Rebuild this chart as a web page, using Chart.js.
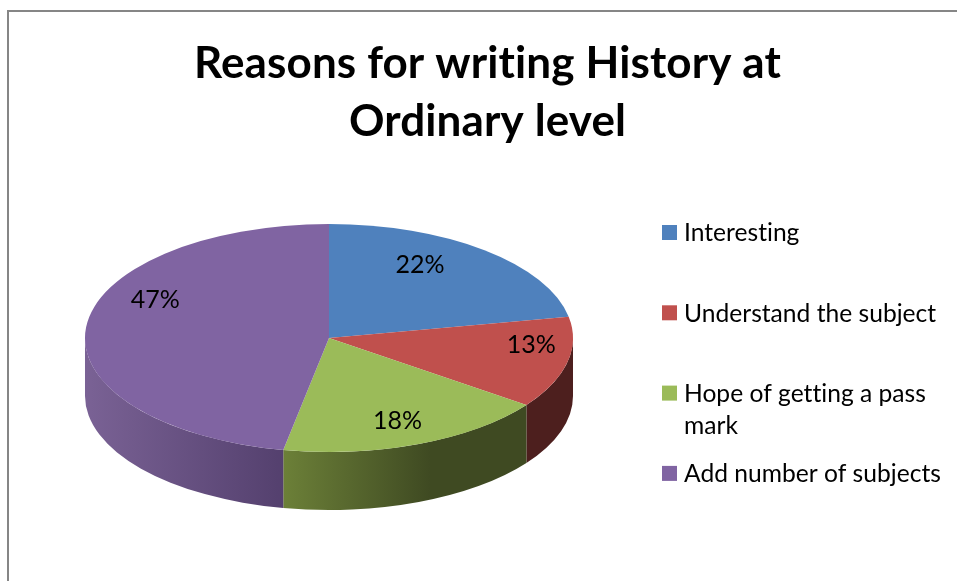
<!DOCTYPE html>
<html>
<head>
<meta charset="utf-8">
<title>Reasons for writing History at Ordinary level</title>
<script src="https://cdn.jsdelivr.net/npm/chart.js@4"></script>
<style>
  html, body { margin: 0; padding: 0; background: #fff; }
  #wrap { width: 957px; height: 581px; }
</style>
</head>
<body>
<div id="wrap"><canvas id="chart" width="957" height="581"></canvas></div>
<script>
'use strict';

// ── DATA ──────────────────────────────────────────────────────────
const TITLE_LINES = ['Reasons for writing History at', 'Ordinary level'];
const CATEGORIES  = ['Interesting', 'Understand the subject', ['Hope of getting a pass', 'mark'], 'Add number of subjects'];
const VALUES      = [22, 13, 18, 47];

// ── STYLE ─────────────────────────────────────────────────────────
const FONT        = 'Lato, Carlito, sans-serif';
const TOP_COLOURS = ['#4f81bd', '#c0504d', '#9bbb59', '#8064a2'];
const SIDE_STOPS  = [
  ['#2c4a70', '#2c4a70'],
  ['#4d1f1e', '#4d1f1e'],
  ['#6c8038', '#3f4a22'],
  ['#7a6295', '#54406e']
];
const PIE          = { cx: 329, cy: 338, rx: 244, ry: 114, depth: 58 };
const LABEL_NUDGE  = [[-24, -8], [26, -11], [2, 5], [6, -30]];
const LEGEND_STYLE = { x: 662, y: 225, box: 15, gap: 7, step: 80.3, line: 32, size: 24.6, textDy: 1 };

// ── 3D PIE (flattened arcs plus side walls) ───────────────────────
function wallRange(start, end) {
  // only the part of a slice between 0 and PI faces the viewer
  const a = Math.max(start, 0);
  const b = Math.min(end, Math.PI);
  return b > a ? [a, b] : null;
}

const flatPie = {
  id: 'flatPie',
  beforeDatasetDraw(chart, args) {
    const ctx = chart.ctx;
    const { cx, cy, rx, ry, depth } = PIE;
    args.meta.data.forEach((arc, i) => {
      const range = wallRange(arc.startAngle, arc.endAngle);
      if (!range) return;
      const x0 = cx + rx * Math.cos(range[1]);
      const x1 = cx + rx * Math.cos(range[0]);
      const grad = ctx.createLinearGradient(x0, 0, Math.min(x1, 430), 0);
      grad.addColorStop(0, SIDE_STOPS[i][0]);
      grad.addColorStop(1, SIDE_STOPS[i][1]);
      ctx.beginPath();
      ctx.ellipse(cx, cy, rx, ry, 0, range[0], range[1]);
      ctx.ellipse(cx, cy + depth, rx, ry, 0, range[1], range[0], true);
      ctx.closePath();
      ctx.fillStyle = grad;
      ctx.fill();
    });
    const first = args.meta.data[0];
    ctx.save();
    ctx.translate(cx, cy);
    ctx.scale(rx / first.outerRadius, ry / first.outerRadius);
    ctx.translate(-first.x, -first.y);
  },
  afterDatasetDraw(chart, args) {
    const ctx = chart.ctx;
    ctx.restore();
    // percentage labels, placed through the same flattening
    ctx.save();
    ctx.font = `25px ${FONT}`;
    ctx.letterSpacing = '0.01px';
    ctx.fillStyle = '#000';
    ctx.textAlign = 'center';
    ctx.textBaseline = 'middle';
    args.meta.data.forEach((arc, i) => {
      const mid = (arc.startAngle + arc.endAngle) / 2;
      const x = PIE.cx + PIE.rx * 0.74 * Math.cos(mid) + LABEL_NUDGE[i][0];
      const y = PIE.cy + PIE.ry * 0.74 * Math.sin(mid) + LABEL_NUDGE[i][1];
      ctx.fillText(VALUES[i] + '%', x, y);
    });
    ctx.restore();
  }
};

// ── LEGEND (fixed step, the wrapped line hangs into the gap) ──────
const stepLegend = {
  id: 'stepLegend',
  afterDraw(chart) {
    const ctx = chart.ctx;
    const s = LEGEND_STYLE;
    ctx.save();
    ctx.font = `${s.size}px ${FONT}`;
    ctx.letterSpacing = '0.01px';
    ctx.textBaseline = 'middle';
    chart.data.labels.forEach((label, i) => {
      const top = s.y + i * s.step;
      ctx.fillStyle = TOP_COLOURS[i];
      ctx.fillRect(s.x, top, s.box, s.box);
      ctx.fillStyle = '#000';
      [].concat(label).forEach((text, n) => {
        ctx.fillText(text, s.x + s.box + s.gap, top + s.box / 2 + s.textDy + n * s.line);
      });
    });
    ctx.restore();
  }
};

// ── PAGE FRAME ────────────────────────────────────────────────────
const frame = {
  id: 'frame',
  beforeDraw(chart) {
    const ctx = chart.ctx;
    ctx.save();
    ctx.fillStyle = '#868686';
    ctx.fillRect(7, 10, chart.width - 7, 2);
    ctx.fillRect(7, 10, 2, chart.height - 10);
    ctx.restore();
    // a little tracking widens the title and switches off Lato's "ti" ligature
    ctx.letterSpacing = '0.13px';
  }
};

new Chart(document.getElementById('chart'), {
  type: 'pie',
  data: {
    labels: CATEGORIES,
    datasets: [{
      data: VALUES,
      backgroundColor: TOP_COLOURS,
      borderWidth: 0,
      clip: false
    }]
  },
  options: {
    responsive: false,
    animation: false,
    layout: { padding: { left: 18 } },
    plugins: {
      legend: { display: false },
      tooltip: { enabled: false },
      title: {
        display: true,
        text: TITLE_LINES,
        color: '#000',
        font: { family: FONT, size: 44, weight: 'bold', lineHeight: 58 / 44 },
        padding: { top: 35, bottom: 8 }
      }
    }
  },
  plugins: [frame, flatPie, stepLegend]
});
</script>
</body>
</html>
